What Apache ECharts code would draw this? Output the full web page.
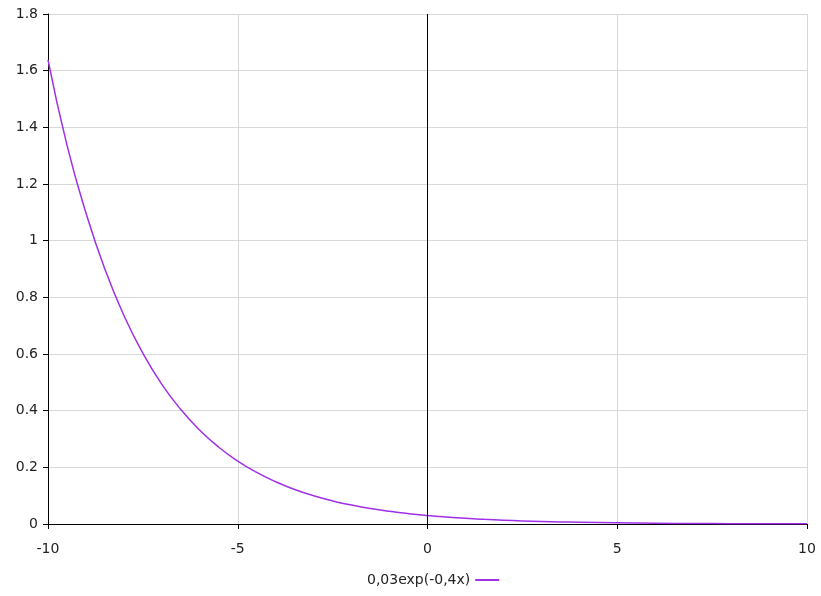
<!DOCTYPE html>
<html><head><meta charset="utf-8">
<script src="https://cdn.jsdelivr.net/npm/echarts@6/dist/echarts.min.js"></script>
<style>html,body{margin:0;padding:0;background:#fff}#c{width:821px;height:596px}</style>
</head><body><div id="c"></div>
<script>
const seriesName = '0,03exp(-0,4x)';
const xValues = [-10,-9.5,-9,-8.5,-8,-7.5,-7,-6.5,-6,-5.5,-5,-4.5,-4,-3.5,-3,-2.5,-2,-1.5,-1,-0.5,0,0.5,1,1.5,2,2.5,3,3.5,4,5,6,7,8,9,10];
const yValues = [1.638,1.337,1.098,0.899,0.736,0.603,0.493,0.404,0.331,0.271,0.222,0.182,0.149,0.122,0.0996,0.0815,0.0668,0.0547,0.0448,0.0366,0.030,0.0246,0.0201,0.0165,0.0135,0.011,0.009,0.0074,0.006,0.004,0.0027,0.0018,0.0012,0.0008,0.0005];
const data = xValues.map((x,i)=>[x,yValues[i]]);
const font = 'DejaVu Sans';
const chart = echarts.init(document.getElementById('c'));
chart.setOption({
  animation:false,
  grid:{left:48,right:14,top:14,bottom:72,containLabel:false},
  legend:{bottom:4,left:362,align:'right',itemWidth:24,itemHeight:2,icon:'rect',
    textStyle:{fontFamily:font,fontSize:14,color:'#222'},data:[seriesName]},
  xAxis:{type:'value',min:-10,max:10,interval:5,
    axisLine:{onZero:false,lineStyle:{color:'#000',width:1}},
    axisTick:{show:true,length:5,lineStyle:{color:'#000'}},
    axisLabel:{margin:18,fontFamily:font,fontSize:14,color:'#222'},
    splitLine:{show:true,lineStyle:{color:'#d8d8d8',width:1}}},
  yAxis:{type:'value',min:0,max:1.8,interval:0.2,
    axisLine:{show:true,onZero:false,lineStyle:{color:'#000',width:1}},
    axisTick:{show:true,length:5,lineStyle:{color:'#000'}},
    axisLabel:{margin:10,fontFamily:font,fontSize:14,color:'#222',
      formatter:v=>String(Math.round(v*10)/10)},
    splitLine:{show:true,lineStyle:{color:'#d8d8d8',width:1}}},
  series:[{name:seriesName,type:'line',data:data,smooth:true,showSymbol:false,
    lineStyle:{color:'#a030e8',width:1.5},itemStyle:{color:'#a030e8'},
    markLine:{silent:true,symbol:['none','none'],label:{show:false},
      lineStyle:{color:'#000',width:1,type:'solid'},data:[{xAxis:0}]}}]
});
</script></body></html>
